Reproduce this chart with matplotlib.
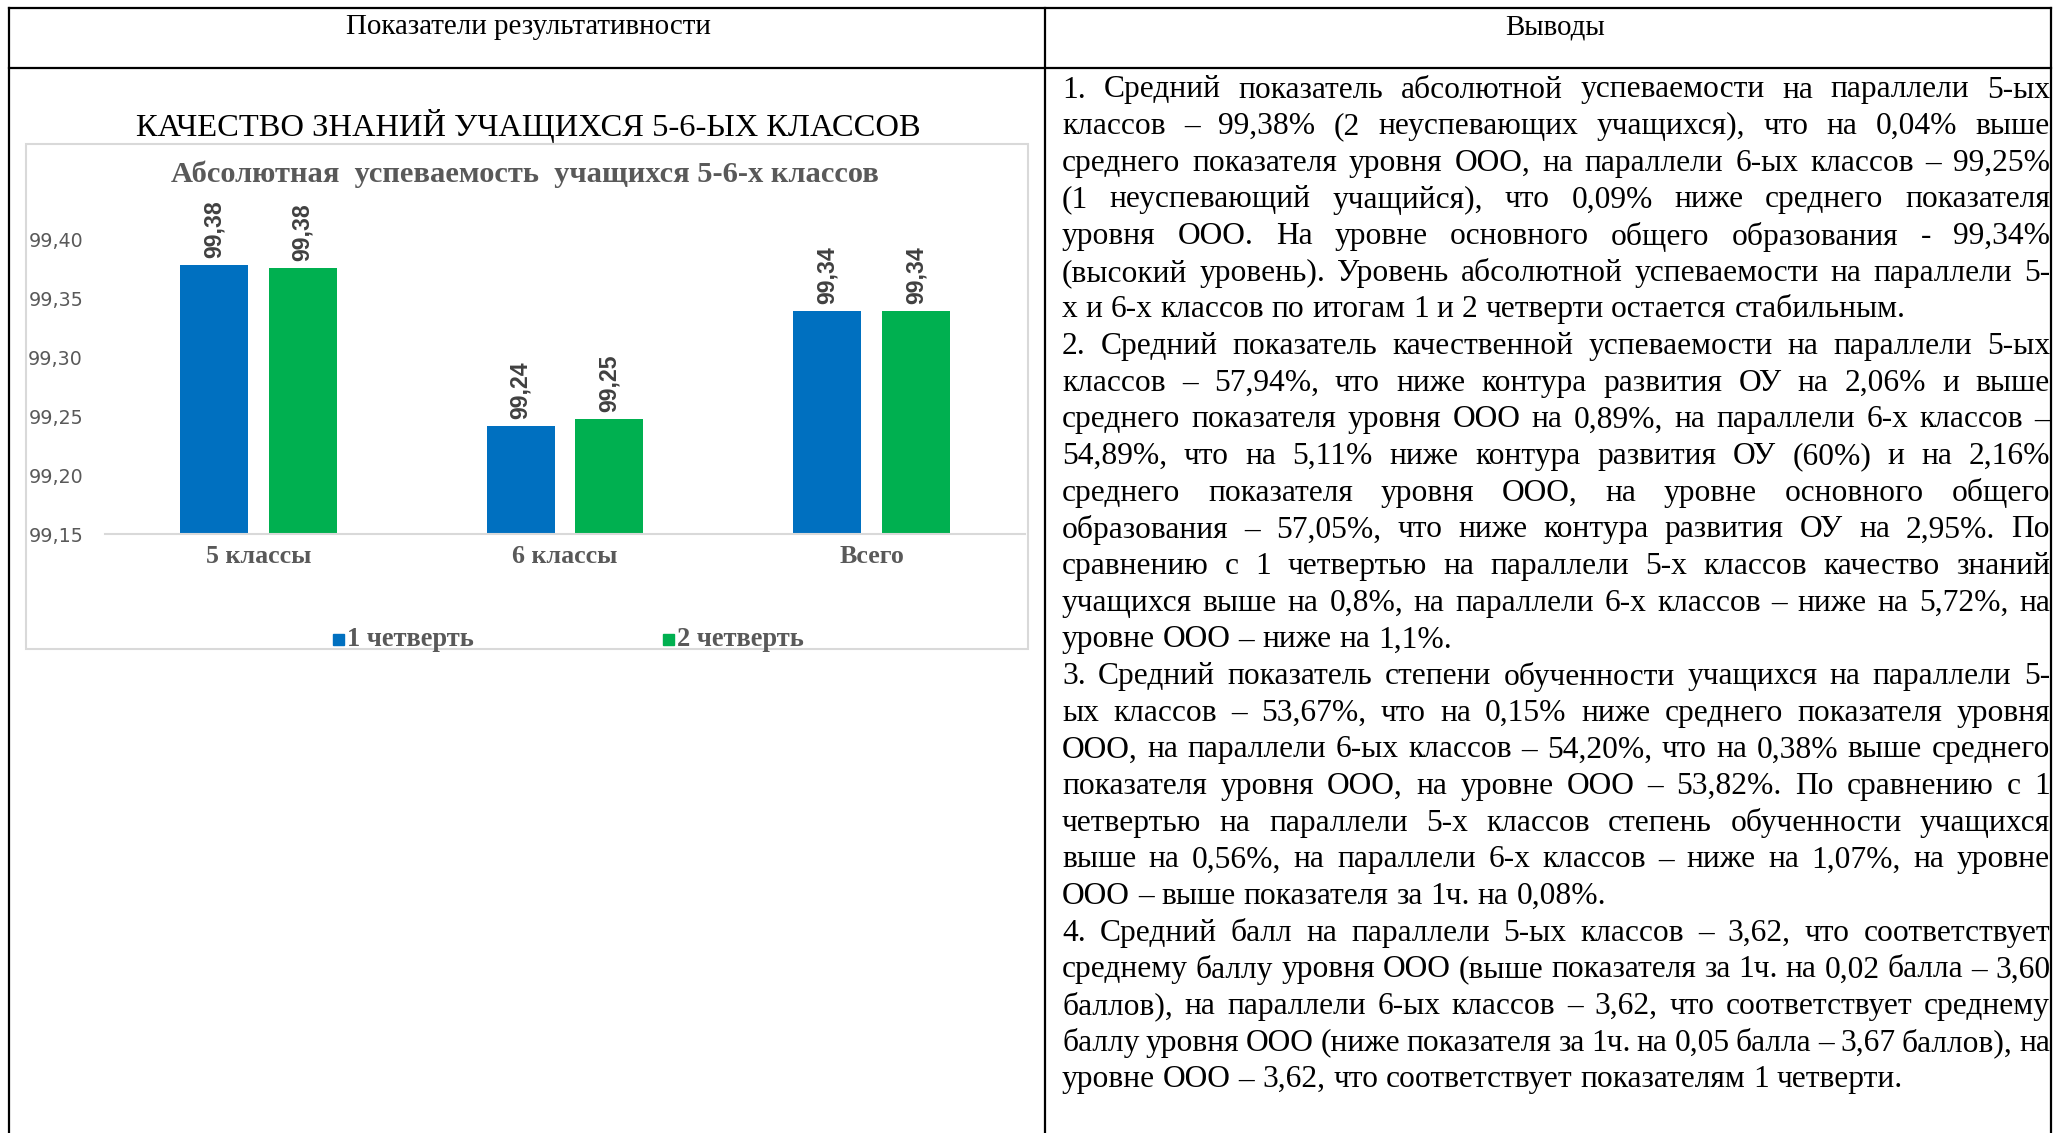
import matplotlib
matplotlib.use("Agg")
import matplotlib.pyplot as plt
from matplotlib.patches import Rectangle
import numpy as np

# ---- data ----
categories = ["5 классы", "6 классы", "Всего"]
series_names = ["1 четверть", "2 четверть"]
q1 = [99.378, 99.242, 99.339]
q2 = [99.376, 99.248, 99.339]
labels_q1 = ["99,38", "99,24", "99,34"]
labels_q2 = ["99,38", "99,25", "99,34"]
yticks = [99.15, 99.20, 99.25, 99.30, 99.35, 99.40]
colors = ["#0070C0", "#00B050"]

header_left = "Показатели результативности"
header_right = "Выводы"
chart_caption = "КАЧЕСТВО ЗНАНИЙ УЧАЩИХСЯ 5-6-ЫХ КЛАССОВ"
chart_title = "Абсолютная  успеваемость  учащихся 5-6-х классов"

# (text, last line of paragraph)
body = [
    ("1. Средний показатель абсолютной успеваемости на параллели 5-ых", False),
    ("классов – 99,38% (2 неуспевающих учащихся), что на 0,04% выше", False),
    ("среднего показателя уровня ООО, на параллели 6-ых классов – 99,25%", False),
    ("(1 неуспевающий учащийся), что 0,09% ниже среднего показателя", False),
    ("уровня ООО. На уровне основного общего образования - 99,34%", False),
    ("(высокий уровень). Уровень абсолютной успеваемости на параллели 5-", False),
    ("х и 6-х классов по итогам 1 и 2 четверти остается стабильным.", True),
    ("2. Средний показатель качественной успеваемости на параллели 5-ых", False),
    ("классов – 57,94%, что ниже контура развития ОУ на 2,06% и выше", False),
    ("среднего показателя уровня ООО на 0,89%, на параллели 6-х классов –", False),
    ("54,89%, что на 5,11% ниже контура развития ОУ (60%) и на 2,16%", False),
    ("среднего показателя уровня ООО, на уровне основного общего", False),
    ("образования – 57,05%, что ниже контура развития ОУ на 2,95%. По", False),
    ("сравнению с 1 четвертью на параллели 5-х классов качество знаний", False),
    ("учащихся выше на 0,8%, на параллели 6-х классов – ниже на 5,72%, на", False),
    ("уровне ООО – ниже на 1,1%.", True),
    ("3. Средний показатель степени обученности учащихся на параллели 5-", False),
    ("ых классов – 53,67%, что на 0,15% ниже среднего показателя уровня", False),
    ("ООО, на параллели 6-ых классов – 54,20%, что на 0,38% выше среднего", False),
    ("показателя уровня ООО, на уровне ООО – 53,82%. По сравнению с 1", False),
    ("четвертью на параллели 5-х классов степень обученности учащихся", False),
    ("выше на 0,56%, на параллели 6-х классов – ниже на 1,07%, на уровне", False),
    ("ООО – выше показателя за 1ч. на 0,08%.", True),
    ("4. Средний балл на параллели 5-ых классов – 3,62, что соответствует", False),
    ("среднему баллу уровня ООО (выше показателя за 1ч. на 0,02 балла – 3,60", False),
    ("баллов), на параллели 6-ых классов – 3,62, что соответствует среднему", False),
    ("баллу уровня ООО (ниже показателя за 1ч. на 0,05 балла – 3,67 баллов), на", False),
    ("уровне ООО – 3,62, что соответствует показателям 1 четверти.", True),
]

W, H, DPI = 2053, 1133, 100
fig = plt.figure(figsize=(W / DPI, H / DPI), dpi=DPI, facecolor="w")

# full-page pixel axes for the table
bg = fig.add_axes([0, 0, 1, 1])
bg.set_xlim(0, W)
bg.set_ylim(H, 0)
bg.axis("off")

serif = "Liberation Serif"
px = 72.0 / DPI  # pixels -> points

# table borders
lw = 1.6
bg.plot([9, 2051], [8, 8], color="k", lw=lw)
bg.plot([9, 2051], [68, 68], color="k", lw=lw)
for x in (9, 1045, 2051):
    bg.plot([x, x], [8, H], color="k", lw=lw)

bg.text(528, 27, header_left, ha="center", va="center", family=serif, fontsize=29 * px)
bg.text(1555, 27, header_right, ha="center", va="center", family=serif, fontsize=29 * px)
bg.text(528, 126, chart_caption, ha="center", va="center", family=serif, fontsize=32.5 * px)

# chart frame
bg.add_patch(Rectangle((26, 144), 1002, 505, fill=False, ec="#D9D9D9", lw=1.5))
bg.text(525, 174, chart_title, ha="center", va="center", family=serif,
        fontweight="bold", color="#595959", fontsize=30.5 * px)

# bar chart
ax = fig.add_axes([105 / W, 1 - 534 / H, 920 / W, (534 - 180.7) / H])
ax.patch.set_visible(False)
x = np.arange(len(categories))
bw = 0.221
off = 0.1447
b1 = ax.bar(x - off, q1, bw, color=colors[0], bottom=0)
b2 = ax.bar(x + off, q2, bw, color=colors[1], bottom=0)
ax.set_ylim(99.15, 99.45)
ax.set_xlim(-0.5, 2.5)
ax.set_yticks(yticks)
ax.set_yticklabels([f"{v:.2f}".replace(".", ",") for v in yticks])
ax.set_xticks(x)
ax.set_xticklabels(categories, family=serif, fontweight="bold", color="#595959", fontsize=26 * px)
ax.tick_params(axis="y", length=0, pad=22 * px, labelcolor="#595959", labelsize=19 * px)
ax.tick_params(axis="x", length=0, pad=11 * px)
for s in ("top", "right", "left"):
    ax.spines[s].set_visible(False)
ax.spines["bottom"].set_color("#D9D9D9")
ax.spines["bottom"].set_linewidth(1.5)
for bars, labs in ((b1, labels_q1), (b2, labels_q2)):
    for b, lab in zip(bars, labs):
        ax.annotate(lab, (b.get_x() + b.get_width() / 2, b.get_height()),
                    xytext=(0, 7 * px), textcoords="offset points", rotation=90,
                    ha="center", va="bottom", family="Liberation Sans",
                    fontweight="bold", color="#404040", fontsize=23 * px)

# legend drawn by hand
for name, c, hx in zip(series_names, colors, (338, 668)):
    bg.add_patch(Rectangle((hx - 5.5, 633.5), 11, 11, color=c))
    bg.text(hx + 9, 639, name, ha="left", va="center", family=serif,
            fontweight="bold", color="#595959", fontsize=26.5 * px)

# justified body text
r = fig.canvas.get_renderer()
x0, x1 = 1062, 2050
y0, step = 90, 36.66
fs = 31.5 * px


def widths(words, size):
    out = []
    for w in words:
        t = bg.text(0, 0, w, family=serif, fontsize=size)
        out.append(t.get_window_extent(r).width)
        t.remove()
    return out


for i, (line, last) in enumerate(body):
    ws = line.split(" ")
    size = fs
    # shrink a line only if it cannot fit
    while sum(widths(ws, size)) + 0.15 * size / px * (len(ws) - 1) > x1 - x0:
        size *= 0.99
    wd = widths(ws, size)
    gap = 0.25 * size / px if last else (x1 - x0 - sum(wd)) / max(len(ws) - 1, 1)
    xx = x0
    y = y0 + i * step
    for w, d in zip(ws, wd):
        bg.text(xx, y, w, ha="left", va="center", family=serif, fontsize=size)
        xx += d + gap

fig.savefig("out.png", dpi=DPI, facecolor="w")
